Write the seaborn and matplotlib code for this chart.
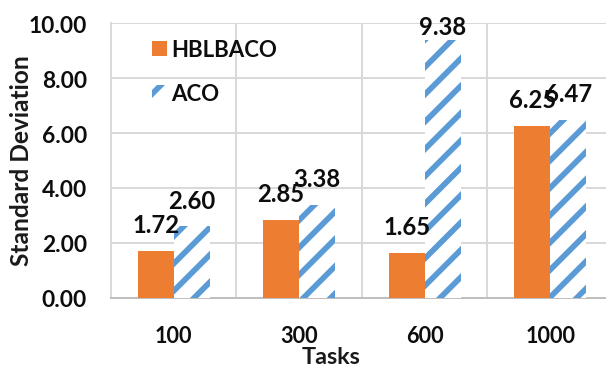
import numpy as np
import pandas as pd
import seaborn as sns
import matplotlib.pyplot as plt
from matplotlib.patches import Patch

# chart data
tasks = ['100', '300', '600', '1000']
hblbaco = [1.72, 2.85, 1.65, 6.25]
aco = [2.60, 3.38, 9.38, 6.47]
yticks = [0, 2, 4, 6, 8, 10]

df = pd.DataFrame({
    'Tasks': tasks * 2,
    'Value': hblbaco + aco,
    'Algorithm': ['HBLBACO'] * 4 + ['ACO'] * 4,
})

sns.set_style('white')
plt.rcParams['font.family'] = ['Lato', 'DejaVu Sans']
plt.rcParams['hatch.linewidth'] = 5.0
plt.rcParams['hatch.color'] = '#5B9BD5'

orange = '#ED7D31'
blue = '#5B9BD5'
grid = '#d9d9d9'
txt = '#0d0d0d'

# dpi 82 so the hatch spacing matches the reference
DPI = 82
fig = plt.figure(figsize=(606 / DPI, 370 / DPI), dpi=DPI)
ax = fig.add_axes([0.183, 0.192, 0.817, 0.743])

sns.barplot(data=df, x='Tasks', y='Value', hue='Algorithm',
            palette={'HBLBACO': orange, 'ACO': 'white'}, saturation=1,
            width=0.574, gap=0, ax=ax, legend=False, zorder=3)

for p in ax.containers[0]:
    p.set_linewidth(0)
for p in ax.containers[1]:
    p.set_hatch('/')
    p.set_edgecolor(blue)
    p.set_linewidth(0)

for c in ax.containers:
    labels = ax.bar_label(c, fmt='%.2f', fontsize=21, fontweight='bold',
                          padding=13, color=txt)
    # Excel keeps the tallest label inside the chart
    for lab in labels:
        if float(lab.get_text()) > 9:
            lab.xyann = (0, 2)

ax.set_ylim(0, 10)
ax.set_xlim(-0.5, 3.444)
ax.set_yticks(yticks)
ax.set_yticklabels([f'{v:.2f}' for v in yticks])

for y in yticks[1:]:
    ax.axhline(y, color=grid, lw=1.75, zorder=0)
for x in [0.5, 1.5, 2.5, 3.5]:
    ax.axvline(x, color=grid, lw=1.75, zorder=0)

for s in ['top', 'right']:
    ax.spines[s].set_visible(False)
ax.spines['left'].set_color(grid)
ax.spines['left'].set_linewidth(1.75)
ax.spines['bottom'].set_color('#bfbfbf')
ax.spines['bottom'].set_linewidth(1.75)

ax.tick_params(axis='both', length=0, labelcolor=txt)
ax.tick_params(axis='x', pad=24, labelsize=19)
ax.tick_params(axis='y', pad=21, labelsize=20)
for t in ax.get_xticklabels() + ax.get_yticklabels():
    t.set_fontweight('bold')

ax.set_xlabel('Tasks', fontsize=20.5, fontweight='bold', color='#1a1a1a')
ax.xaxis.set_label_coords(0.444, -0.175)
ax.set_ylabel('Standard Deviation', fontsize=21.5, fontweight='bold', color='#1a1a1a')
ax.yaxis.label.set_va('center')
ax.yaxis.set_label_coords(-0.18, 0.505)

handles = [Patch(facecolor=orange, edgecolor='none', label='HBLBACO'),
           Patch(facecolor='white', edgecolor=blue, hatch='/', linewidth=0, label='ACO')]
leg = ax.legend(handles=handles, loc='upper left', bbox_to_anchor=(0.083, 0.942),
                frameon=False, fontsize=19.5, handlelength=0.68, handleheight=0.68,
                handletextpad=0.18, labelspacing=1.05, borderpad=0, borderaxespad=0)
for t in leg.get_texts():
    t.set_fontweight('bold')
    t.set_color(txt)

fig.savefig('out.png', dpi=DPI)
